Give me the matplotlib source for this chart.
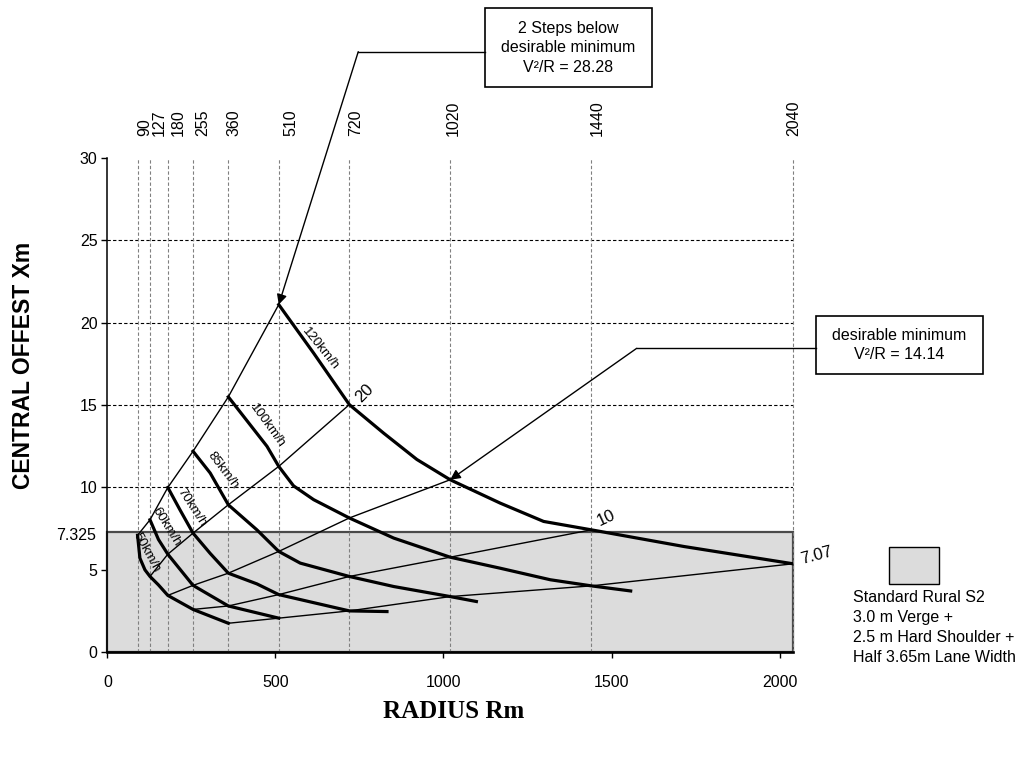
import matplotlib
matplotlib.use("Agg")
import matplotlib.pyplot as plt
import matplotlib.transforms as mtransforms
from matplotlib.patches import Rectangle
from matplotlib.lines import Line2D

plt.rcParams['font.family'] = ['Liberation Sans', 'DejaVu Sans']

# ---- data ----
grid_radii = [90, 127, 180, 255, 360, 510, 720, 1020, 1440, 2040]
grid_labels = ['90', '127', '180', '255', '360', '510', '720', '1020', '1440', '2040']
# small sideways nudge of each top label (pixels), as in the original
label_nudge = [7, 9, 10, 10, 6, 12, 6, 3, 6, 1]

verge_offset = 7.325   # shaded S2 cross-section

# speed curves (radius, central offset)
r50 = [90, 97, 112, 127, 152, 180, 255, 360]
x50 = [7.1, 5.71, 5.0, 4.6, 4.09, 3.45, 2.6, 1.76]
r60 = [127, 152, 180, 255, 360, 510]
x60 = [8.04, 6.85, 5.95, 4.06, 2.81, 2.07]
r70 = [180, 216, 255, 306, 360, 445, 510, 720, 832]
x70 = [10.0, 8.65, 7.23, 6.0, 4.8, 4.15, 3.5, 2.51, 2.47]
r85 = [255, 306, 360, 445, 510, 574, 720, 852, 1020, 1098]
x85 = [12.2, 10.88, 8.95, 7.43, 6.12, 5.41, 4.6, 3.99, 3.38, 3.08]
r100 = [360, 475, 510, 554, 614, 720, 852, 1020, 1169, 1318, 1440, 1557]
x100 = [15.5, 12.5, 11.28, 10.1, 9.26, 8.15, 6.93, 5.77, 5.1, 4.4, 4.03, 3.72]
r120 = [510, 614, 720, 822, 921, 1020, 1169, 1298, 1440, 1715, 2040]
x120 = [21.1, 18.15, 15.03, 13.3, 11.7, 10.47, 9.05, 7.94, 7.43, 6.42, 5.37]

speed_r = [r50, r60, r70, r85, r100, r120]
speed_x = [x50, x60, x70, x85, x100, x120]
speed_names = ['50km/h', '60km/h', '70km/h', '85km/h', '100km/h', '120km/h']
speed_lab_r = [117, 176, 251, 343, 475, 633]
speed_lab_x = [6.05, 7.6, 8.79, 11.04, 13.76, 18.4]
speed_lab_rot = [-61, -58, -57, -53, -54, -51]

# constant V^2/R lines
k2828_r = [90, 127, 180, 255, 360, 510]
k2828_x = [7.1, 8.04, 10.0, 12.2, 15.5, 21.1]
k20_r = [127, 180, 255, 360, 510, 720]
k20_x = [4.6, 5.95, 7.23, 8.95, 11.28, 15.03]
k1414_r = [180, 255, 360, 510, 720, 1020]
k1414_x = [3.45, 4.06, 4.8, 6.12, 8.15, 10.47]
k10_r = [255, 360, 510, 720, 1020, 1440]
k10_x = [2.6, 2.81, 3.5, 4.6, 5.77, 7.43]
k707_r = [360, 510, 720, 1020, 1440, 2040]
k707_x = [1.76, 2.07, 2.51, 3.38, 4.03, 5.37]

k_lines_r = [k2828_r, k20_r, k1414_r, k10_r, k707_r]
k_lines_x = [k2828_x, k20_x, k1414_x, k10_x, k707_x]
k_names = ['20', '10', '7.07']
k_lab_r = [765, 1483, 2110]
k_lab_x = [15.74, 8.15, 5.87]
k_lab_rot = [45, 25, 15]

fs = 11.5

fig = plt.figure(figsize=(10.23, 7.58), dpi=100)
ax = fig.add_axes([0.1049, 0.1395, 0.6703, 0.6521])
ax.set_xlim(0, 2040)
ax.set_ylim(0, 30)

# horizontal grid (under the shading)
for yv in [5, 10, 15, 20, 25]:
    ax.axhline(yv, color='k', lw=0.8, ls=(0, (3, 2)), zorder=1)

ax.add_patch(Rectangle((0, 0), 2040, verge_offset, facecolor='#dcdcdc',
                       edgecolor='#4a4a4a', lw=1.6, zorder=2, clip_on=False))

# vertical grid on top
for r in grid_radii:
    ax.plot([r, r], [0, 30], color='#808080', lw=0.8, ls=(0, (3, 2)),
            zorder=3, clip_on=False)

trans_top = mtransforms.blended_transform_factory(ax.transData, ax.transAxes)
for r, lab, dx in zip(grid_radii, grid_labels, label_nudge):
    ax.annotate(lab, xy=(r, 1.044), xycoords=trans_top, xytext=(dx * 0.72, 0),
                textcoords='offset points', rotation=90, ha='center',
                va='bottom', fontsize=fs, annotation_clip=False)

for rr, xx in zip(k_lines_r, k_lines_x):
    ax.plot(rr, xx, color='k', lw=1.0, zorder=4, solid_joinstyle='round')

for rr, xx in zip(speed_r, speed_x):
    ax.plot(rr, xx, color='k', lw=2.3, zorder=5, solid_joinstyle='round')

for n, r, x, rot in zip(speed_names, speed_lab_r, speed_lab_x, speed_lab_rot):
    ax.text(r, x, n, rotation=rot, rotation_mode='anchor', ha='center',
            va='center', fontsize=9.5, zorder=6)

for n, r, x, rot in zip(k_names, k_lab_r, k_lab_x, k_lab_rot):
    ax.text(r, x, n, rotation=rot, ha='center', va='center', fontsize=12,
            zorder=6, clip_on=False)

# axes styling
for s in ['top', 'right']:
    ax.spines[s].set_visible(False)
ax.spines['left'].set_linewidth(1.1)
ax.spines['bottom'].set_linewidth(1.9)
ax.spines['bottom'].set_zorder(7)
ax.set_xticks([0, 500, 1000, 1500, 2000])
ax.set_yticks([0, 5, 10, 15, 20, 25, 30])
ax.tick_params(axis='y', direction='out', length=4.5, width=1.0, pad=2.5,
               labelsize=fs)
ax.tick_params(axis='x', direction='out', length=4.5, width=1.0, pad=12,
               labelsize=fs)
ax.annotate('7.325', xy=(0, verge_offset), xytext=(-8, -3),
            textcoords='offset points', ha='right', va='center',
            fontsize=fs, annotation_clip=False)

fig.text(0.0225, 0.5185, 'CENTRAL OFFEST Xm', rotation=90, ha='center',
         va='center', fontsize=16.5, fontweight='bold')
fig.text(0.4438, 0.062, 'RADIUS Rm', ha='center', va='center', fontsize=18,
         fontweight='bold', family='Liberation Serif')

# callouts
ax.annotate('', xy=(510, 21.1), xycoords='data', xytext=(0.3502, 0.9318),
            textcoords='figure fraction',
            arrowprops=dict(arrowstyle='-|>', color='k', lw=1.0,
                            mutation_scale=15, shrinkA=0, shrinkB=0),
            annotation_clip=False)
fig.add_artist(Line2D([0.3502, 0.4741], [0.9318, 0.9318],
                      transform=fig.transFigure, color='k', lw=1.0))
fig.add_artist(Rectangle((0.4741, 1 - 87.3 / 758), 166.7 / 1023, 79 / 758,
                         transform=fig.transFigure, facecolor='white',
                         edgecolor='k', lw=1.2))
fig.text(0.5555, 0.9369, '2 Steps below\ndesirable minimum\nV²/R = 28.28',
         ha='center', va='center', fontsize=fs, linespacing=1.38)

ax.annotate('', xy=(1020, 10.47), xycoords='data', xytext=(0.6224, 0.5405),
            textcoords='figure fraction',
            arrowprops=dict(arrowstyle='-|>', color='k', lw=1.0,
                            mutation_scale=15, shrinkA=0, shrinkB=0),
            annotation_clip=False)
fig.add_artist(Line2D([0.6224, 0.7977], [0.5405, 0.5405],
                      transform=fig.transFigure, color='k', lw=1.0))
fig.add_artist(Rectangle((0.7977, 1 - 374.3 / 758), 166.7 / 1023, 58.3 / 758,
                         transform=fig.transFigure, facecolor='white',
                         edgecolor='k', lw=1.2))
fig.text(0.8791, 0.5446, 'desirable minimum\nV²/R = 14.14',
         ha='center', va='center', fontsize=fs, linespacing=1.3)

# legend
fig.add_artist(Rectangle((0.8687, 0.2292), 0.0489, 0.0496,
                         transform=fig.transFigure, facecolor='#dcdcdc',
                         edgecolor='k', lw=1.0))
fig.text(0.8341, 0.2216,
         'Standard Rural S2\n3.0 m Verge +\n2.5 m Hard Shoulder +\nHalf 3.65m Lane Width',
         ha='left', va='top', fontsize=fs, linespacing=1.42)

fig.savefig('out.png', dpi=100)
